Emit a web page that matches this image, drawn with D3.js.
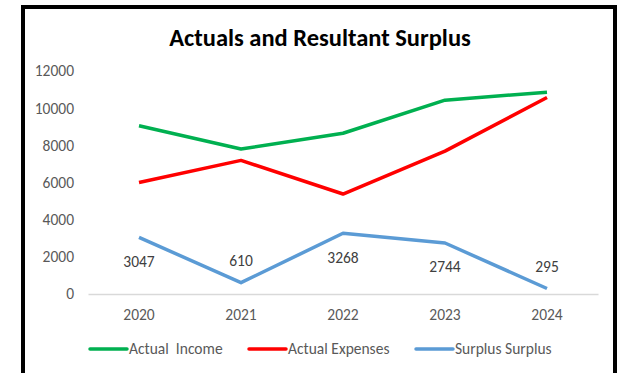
<!DOCTYPE html>
<html><head><meta charset="utf-8">
<script src="https://cdn.jsdelivr.net/npm/d3@7"></script>
<style>body{margin:0;background:#fff}svg{display:block}</style>
</head><body><svg id="c" width="618" height="373"></svg>
<script>
const years = ["2020","2021","2022","2023","2024"];
const income = [9050, 7800, 8650, 10430, 10860];
const expenses = [6000, 7190, 5380, 7690, 10570];
const surplus = [3047, 610, 3268, 2744, 295];
const yTicks = [0, 2000, 4000, 6000, 8000, 10000, 12000];
const labelPlacement = ["below","above","below","below","above"];
const seriesNames = ["Actual  Income", "Actual Expenses", "Surplus Surplus"];
const seriesColors = ["#00B050", "#FF0000", "#5B9BD5"];

const font = "Calibri, Carlito, Lato, 'Open Sans', sans-serif";
const fs = 15.5;
const svg = d3.select("#c");
svg.append("rect").attr("x",0).attr("y",0).attr("width",618).attr("height",373).attr("fill","#fff");
svg.append("rect").attr("x",23).attr("y",7).attr("width",592).attr("height",380)
  .attr("fill","none").attr("stroke","#000").attr("stroke-width",4);

const x = d3.scaleBand().domain(years).range([88, 598]);
const y = d3.scaleLinear().domain([0, 12000]).range([294, 71]);

svg.append("text").attr("x",320).attr("y",46).attr("text-anchor","middle")
  .attr("font-family",font).attr("font-weight","bold").attr("font-size",24.5).attr("fill","#000")
  .text("Actuals and Resultant Surplus");

// y axis labels
const yAxis = d3.axisLeft(y).tickValues(yTicks).tickSize(0).tickPadding(0).tickFormat(d3.format("d"));
const ya = svg.append("g").attr("transform","translate(74,0)").call(yAxis);
ya.select(".domain").remove();
ya.selectAll("text").attr("font-family",font).attr("font-size",fs).attr("fill","#595959");

// x axis
const xAxis = d3.axisBottom(x).tickSize(0);
const xa = svg.append("g").attr("transform","translate(0,294)").call(xAxis);
xa.select(".domain").attr("stroke","#D9D9D9").attr("stroke-width",1.3);
xa.selectAll("text").attr("y",21).attr("dy","0.35em")
  .attr("font-family",font).attr("font-size",fs).attr("fill","#595959");

const line = d3.line().x((d,i)=>x(years[i])+x.bandwidth()/2).y(d=>y(d));
[income, expenses, surplus].forEach((s,k)=>{
  svg.append("path").datum(s).attr("d",line).attr("fill","none")
    .attr("stroke",seriesColors[k]).attr("stroke-width",3.5).attr("stroke-linejoin","round");
});

// data labels
svg.selectAll(".lbl").data(surplus).enter().append("text")
  .attr("x",(d,i)=>x(years[i])+x.bandwidth()/2)
  .attr("y",(d,i)=>y(d) + (labelPlacement[i]==="below" ? 24 : -22))
  .attr("dy","0.35em").attr("text-anchor","middle")
  .attr("font-family",font).attr("font-size",fs).attr("fill","#404040")
  .text(d=>d);

// legend
const legendX = [90, 249, 416];
seriesNames.forEach((n,k)=>{
  svg.append("line").attr("x1",legendX[k]).attr("x2",legendX[k]+37).attr("y1",349).attr("y2",349)
    .attr("stroke",seriesColors[k]).attr("stroke-width",3.5).attr("stroke-linecap","round");
  svg.append("text").attr("x",legendX[k]+39).attr("y",349).attr("dy","0.35em")
    .attr("font-family",font).attr("font-size",fs).attr("fill","#595959")
    .attr("xml:space","preserve").style("white-space","pre").text(n);
});
</script></body></html>
